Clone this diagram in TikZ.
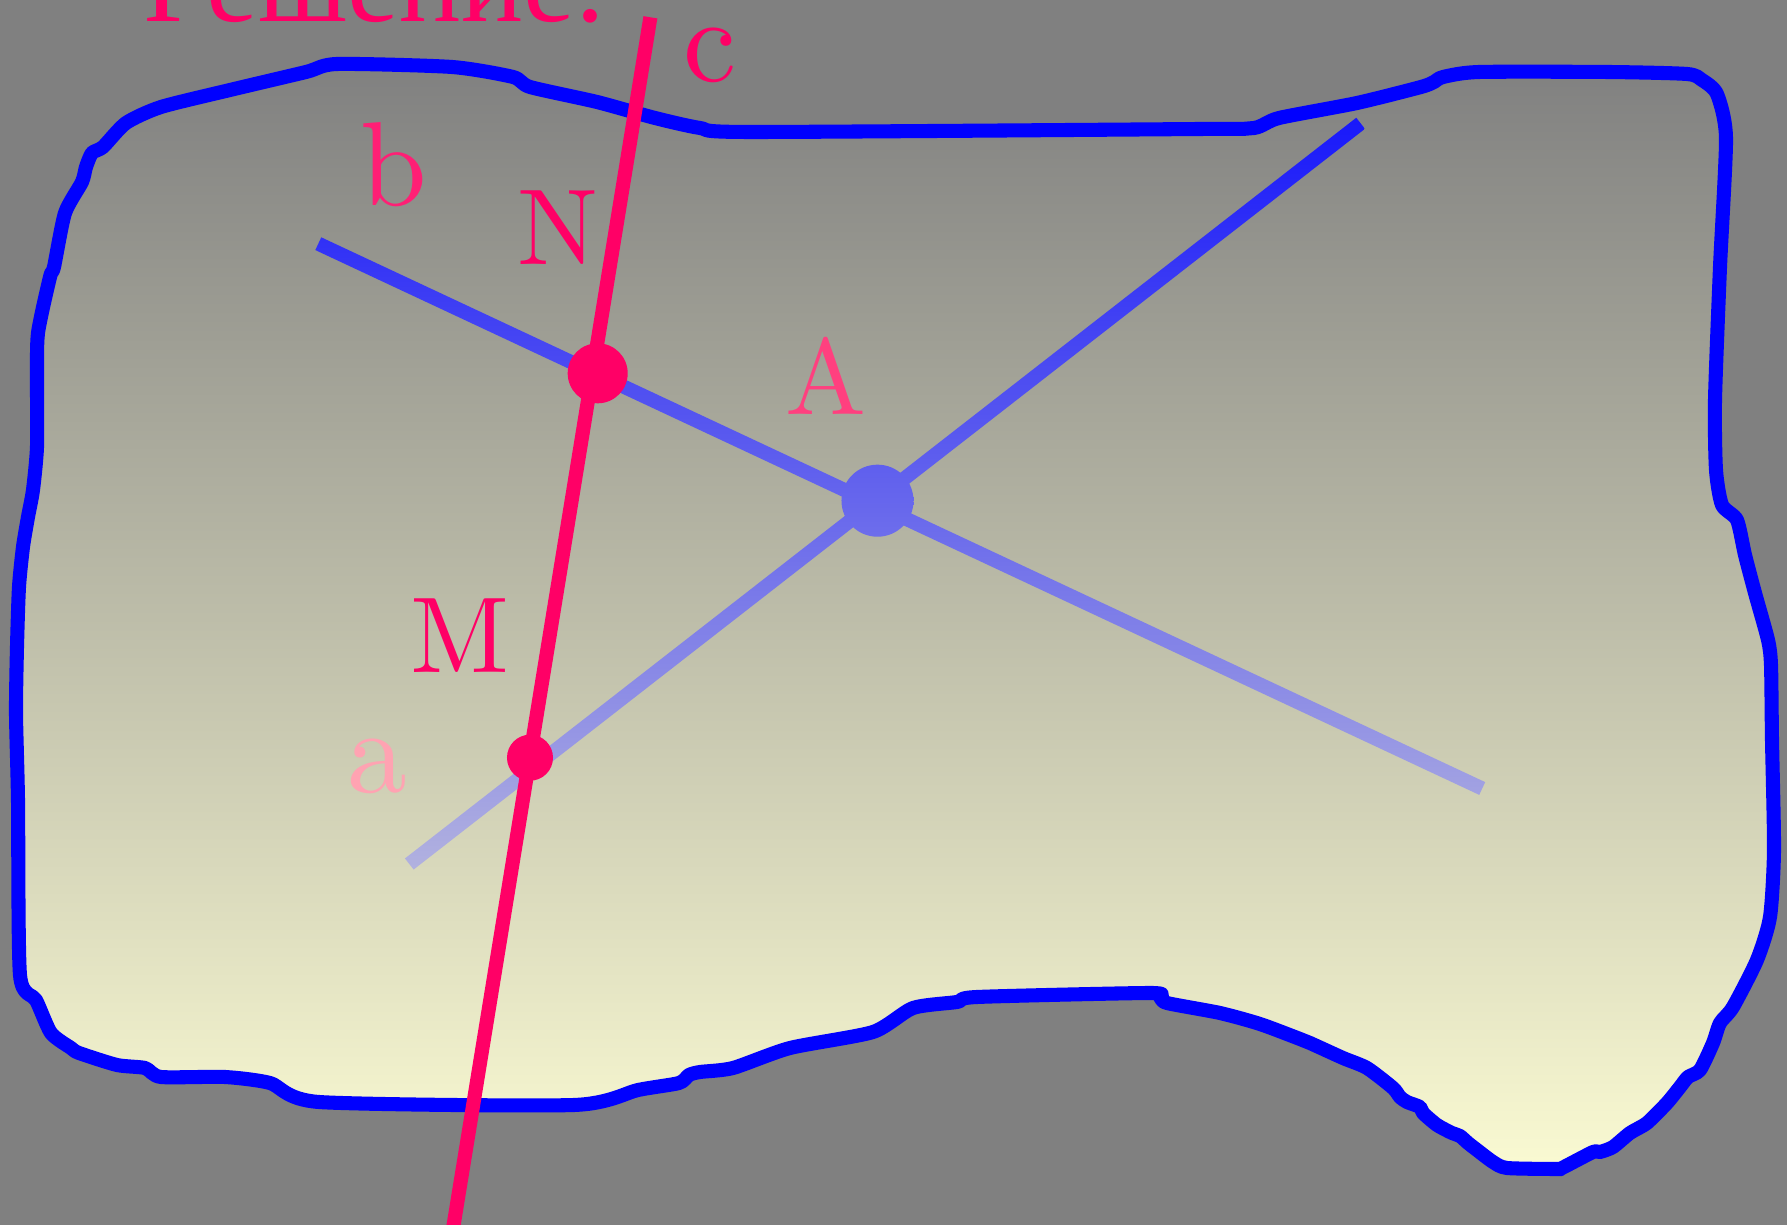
\documentclass[tikz,border=0pt]{standalone}
\usepackage{fontspec}
\newfontfamily\cyrfont{Liberation Serif}
\newfontfamily\lmten{lmroman10-regular.otf}
\usetikzlibrary{calc}

\definecolor{pinkred}{RGB}{255,0,102}
\definecolor{paleyellow}{RGB}{250,250,210}
\definecolor{bggray}{RGB}{128,128,128}
\definecolor{labelb}{RGB}{255,31,117}
\definecolor{labelA}{RGB}{255,64,127}
\definecolor{labela}{RGB}{255,163,178}

\begin{document}
\begin{tikzpicture}[
    x=0.01cm, y=-0.01cm,
    planeedge/.style={draw=blue, line width=4pt, line join=round, top color=bggray, bottom color=paleyellow},
    redline/.style={draw=pinkred, line width=4pt},
    reddot/.style={fill=pinkred},
    fadeblue/.style={top color=blue, bottom color=paleyellow},
    lowletter/.style={font=\lmten\fontsize{34}{40}\selectfont, anchor=base, inner sep=0pt},
    capletter/.style={font=\lmten\fontsize{30.7}{36}\selectfont, anchor=base, inner sep=0pt}
]

    % Page
    \fill[bggray] (0,0) rectangle (1787,1225);
    \useasboundingbox (0,0) rectangle (1787,1225);

    % Plane
    \path[planeedge] plot[smooth cycle, tension=0.4] coordinates {
        (337,64) (452,67) (513,77) (530,87) (597,102) (655,118) (700,128)
        (750,132) (1200,129) (1254,128) (1279,118) (1357,103) (1421,87) (1434,82)
        (1443,77) (1479,72) (1608,72) (1687,74) (1702,80) (1717,94) (1726,138)
        (1720,267) (1715,400) (1716,470) (1722,505) (1737,520) (1745,555) (1755,593)
        (1768,640) (1771,665) (1772,740) (1774,850) (1770,917) (1757,960) (1733,1007)
        (1720,1023) (1713,1043) (1700,1070) (1688,1077) (1680,1087) (1667,1103)
        (1647,1123) (1630,1133) (1613,1147) (1600,1152) (1593,1152) (1562,1168)
        (1557,1169) (1507,1168) (1493,1162) (1477,1150) (1468,1143) (1460,1136)
        (1452,1133) (1437,1125) (1423,1113) (1420,1107) (1407,1102) (1400,1097)
        (1393,1088) (1367,1068) (1343,1058) (1310,1043) (1300,1039) (1260,1024)
        (1220,1013) (1167,1003) (1160,997) (1150,993) (977,997) (957,1002) (913,1008)
        (873,1032) (790,1048) (733,1068) (700,1072) (689,1075) (679,1083) (638,1090)
        (574,1105) (319,1102) (270,1083) (225,1077) (161,1077) (145,1068) (117,1065)
        (79,1053) (71,1048) (51,1033) (36,1000) (20,975) (18,800) (16,713) (17,647)
        (19,587) (23,547) (28,517) (33,490) (37,447) (37,380) (38,333) (50,277)
        (54,267) (65,213) (82,182) (86,167) (92,153) (103,147) (126,123) (161,107)
        (230,90) (306,72)
    };

    % Points and line ends
    \coordinate (N) at (597.7,373.3);
    \coordinate (M) at (530,757.7);
    \coordinate (A) at (877.5,500.7);
    \coordinate (a1) at (409.3,864);
    \coordinate (a2) at (1360.6,123.3);
    \coordinate (b1) at (318.3,243.7);
    \coordinate (b2) at (1482.2,788.5);
    \coordinate (c1) at (650.4,17.3);
    \coordinate (c2) at (447.9,1260);

    % Line b
    \begin{scope}
        \clip ($(b1)!2pt!90:(b2)$) -- ($(b1)!2pt!-90:(b2)$) -- ($(b2)!2pt!90:(b1)$) -- ($(b2)!2pt!-90:(b1)$) -- cycle;
        \shade[fadeblue] (0,0) rectangle (1787,1225);
    \end{scope}
    % Line a
    \begin{scope}
        \clip ($(a1)!2pt!90:(a2)$) -- ($(a1)!2pt!-90:(a2)$) -- ($(a2)!2pt!90:(a1)$) -- ($(a2)!2pt!-90:(a1)$) -- cycle;
        \shade[fadeblue] (0,0) rectangle (1787,1225);
    \end{scope}
    % Point A
    \begin{scope}
        \clip (A) circle[radius=0.36cm];
        \shade[fadeblue] (0,0) rectangle (1787,1225);
    \end{scope}

    % Line c
    \draw[redline] (c1) -- (c2);
    \fill[reddot] (N) circle[radius=0.3cm];
    \fill[reddot] (M) circle[radius=0.23cm];

    % Labels
    \node[lowletter, text=pinkred] (labc) at (710,82) {c};
    \node[lowletter, text=labelb] (labb) at (394,206) {b};
    \node[lowletter, text=labela] (laba) at (377,793) {a};
    \node[capletter, text=pinkred] (labN) at (558,265) {N};
    \node[capletter, text=labelA] (labA) at (825.5,415) {A};
    \node[capletter, text=pinkred] (labM) at (460,672.7) {M};

    \node[anchor=base west, inner sep=0pt, text=pinkred, font=\cyrfont\fontsize{33}{40}\selectfont] (title) at (143,21.7) {Решение:};

\end{tikzpicture}
\end{document}
